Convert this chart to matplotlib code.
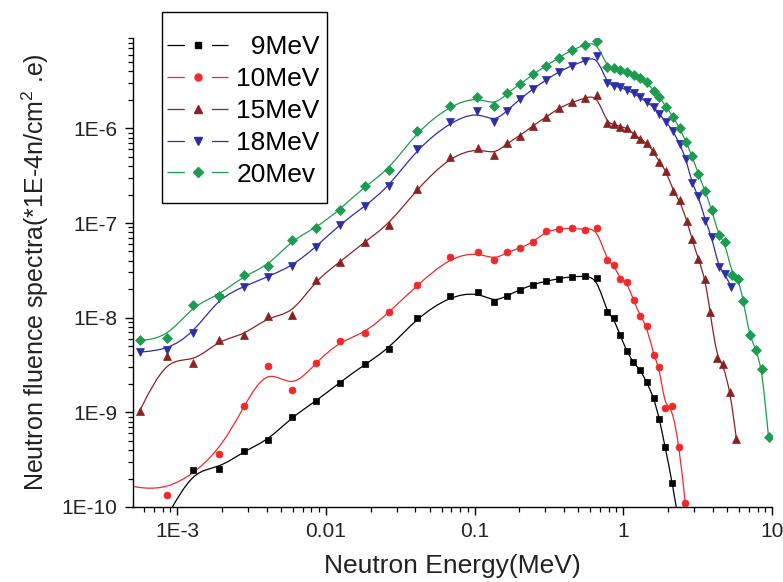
import numpy as np
import matplotlib
matplotlib.use("Agg")
import matplotlib.pyplot as plt
import matplotlib.ticker as mticker
from matplotlib.path import Path
from matplotlib.patches import PathPatch, Rectangle
from matplotlib.lines import Line2D

plt.rcParams.update({
    "font.family": "Liberation Sans",
    "mathtext.default": "regular",
    "lines.scale_dashes": False,
})

# ── Data ──────────────────────────────────────────────────────────────────────
x_left = [5.6e-4, 8.6e-4, 1.29e-3, 1.91e-3, 2.82e-3, 4.09e-3, 5.93e-3,
          8.56e-3, 0.0124, 0.0183, 0.0266, 0.0411, 0.0682]

e9_x = [8.6e-4, 1.29e-3, 1.91e-3, 2.82e-3, 4.09e-3, 5.93e-3, 8.56e-3, 0.0124,
        0.0183, 0.0266, 0.0411, 0.0682, 0.105, 0.136, 0.165, 0.203, 0.247,
        0.303, 0.369, 0.451, 0.554, 0.664, 0.776, 0.860, 0.953, 1.057, 1.16,
        1.30, 1.44, 1.60, 1.75, 1.91, 2.14, 2.39]
e9_y = [8e-11, 2.48e-10, 2.54e-10, 3.90e-10, 5.06e-10, 8.91e-10, 1.31e-9,
        2.06e-9, 3.21e-9, 4.70e-9, 9.98e-9, 1.69e-8, 1.86e-8, 1.46e-8, 1.71e-8,
        1.97e-8, 2.24e-8, 2.43e-8, 2.58e-8, 2.72e-8, 2.74e-8, 2.64e-8, 1.14e-8,
        9.9e-9, 6.49e-9, 4.45e-9, 3.39e-9, 2.82e-9, 2.08e-9, 1.43e-9, 8.57e-10,
        4.30e-10, 1.80e-10, 6e-11]

e10_x = [4.0e-4, 8.6e-4, 1.91e-3, 2.82e-3, 4.09e-3, 5.93e-3, 8.56e-3, 0.0124,
         0.0183, 0.0266, 0.0411, 0.0682, 0.105, 0.136, 0.165, 0.203, 0.247,
         0.303, 0.369, 0.451, 0.554, 0.664, 0.776, 0.860, 0.953, 1.057, 1.172,
         1.30, 1.44, 1.60, 1.75, 1.91, 2.12, 2.38, 2.61]
e10_y = [1.8e-10, 1.35e-10, 3.66e-10, 1.18e-9, 3.05e-9, 1.73e-9, 3.34e-9,
         5.61e-9, 6.86e-9, 1.14e-8, 2.19e-8, 4.35e-8, 4.91e-8, 4.08e-8, 4.91e-8,
         5.42e-8, 6.26e-8, 8.18e-8, 8.67e-8, 8.81e-8, 8.53e-8, 8.89e-8, 4.02e-8,
         3.64e-8, 2.58e-8, 2.37e-8, 1.53e-8, 1.05e-8, 8.1e-9, 3.99e-9, 3.00e-9,
         1.12e-9, 1.18e-9, 4.30e-10, 1.1e-10]

e15_x = x_left + [0.105, 0.136, 0.165, 0.203, 0.247, 0.303, 0.369, 0.451,
                  0.554, 0.664, 0.776, 0.860, 0.953, 1.057, 1.172, 1.30, 1.44,
                  1.58, 1.75, 1.94, 2.16, 2.39, 2.68, 2.89, 3.20, 3.55, 3.84,
                  4.26, 4.68, 5.24, 5.76]
e15_y = [1.03e-9, 3.89e-9, 3.31e-9, 5.85e-9, 6.49e-9, 1.03e-8, 1.08e-8,
         2.51e-8, 3.83e-8, 6.37e-8, 9.63e-8, 2.29e-7, 5.02e-7,
         6.21e-7, 5.28e-7, 6.95e-7, 8.37e-7, 1.07e-6, 1.31e-6, 1.64e-6, 1.88e-6,
         2.09e-6, 2.27e-6, 1.13e-6, 1.11e-6, 1.04e-6, 1.01e-6, 8.73e-7, 7.73e-7,
         6.95e-7, 5.82e-7, 4.38e-7, 3.58e-7, 2.20e-7, 1.73e-7, 1.06e-7, 6.81e-8,
         4.19e-8, 2.58e-8, 1.14e-8, 3.78e-9, 3.26e-9, 1.64e-9, 5.27e-10]

e18_x = x_left + [0.104, 0.136, 0.165, 0.203, 0.247, 0.303, 0.369, 0.451,
                  0.554, 0.664, 0.776, 0.860, 0.953, 1.057, 1.172, 1.30, 1.44,
                  1.60, 1.75, 1.94, 2.16, 2.39, 2.65, 2.89, 3.20, 3.55, 3.94,
                  4.37, 4.84, 5.29]
e18_y = [4.33e-9, 4.58e-9, 6.86e-9, 1.62e-8, 2.13e-8, 2.72e-8, 3.50e-8,
         5.55e-8, 9.63e-8, 1.50e-7, 2.43e-7, 6.07e-7, 1.16e-6,
         1.51e-6, 1.16e-6, 1.54e-6, 2.04e-6, 2.61e-6, 3.25e-6, 3.96e-6, 4.59e-6,
         5.19e-6, 5.85e-6, 2.99e-6, 2.82e-6, 2.71e-6, 2.54e-6, 2.34e-6, 2.12e-6,
         1.88e-6, 1.69e-6, 1.42e-6, 1.16e-6, 9.46e-7, 6.85e-7, 4.75e-7, 2.63e-7,
         1.95e-7, 1.06e-7, 7.19e-8, 3.41e-8, 2.86e-8, 2.13e-8]

e20_x = x_left + [0.104, 0.136, 0.165, 0.203, 0.247, 0.303, 0.369, 0.451,
                  0.554, 0.664, 0.776, 0.860, 0.953, 1.057, 1.172, 1.30, 1.44,
                  1.60, 1.75, 1.94, 2.16, 2.39, 2.65, 2.89, 3.20, 3.55, 3.94,
                  4.37, 4.84, 5.39, 5.95, 6.43, 7.06, 7.83, 8.55, 9.48]
e20_y = [5.74e-9, 6.14e-9, 1.37e-8, 1.71e-8, 2.79e-8, 3.50e-8, 6.64e-8,
         8.81e-8, 1.38e-7, 2.44e-7, 3.66e-7, 9.3e-7, 1.74e-6,
         2.16e-6, 1.74e-6, 2.34e-6, 2.92e-6, 3.72e-6, 4.57e-6, 5.59e-6, 6.72e-6,
         7.64e-6, 8.28e-6, 4.40e-6, 4.30e-6, 4.13e-6, 3.90e-6, 3.65e-6, 3.40e-6,
         3.06e-6, 2.50e-6, 2.12e-6, 1.69e-6, 1.33e-6, 1.01e-6, 7.12e-7, 5.15e-7,
         3.30e-7, 2.16e-7, 1.38e-7, 7.38e-8, 6.26e-8, 2.79e-8, 2.58e-8, 1.49e-8,
         6.49e-9, 4.51e-9, 2.89e-9, 5.48e-10]

labels = ["  9MeV", "10MeV", "15MeV", "18MeV", "20Mev"]
colors = ["#000000", "#ee2a2a", "#8a2222", "#2c2ea8", "#1c9c50"]
markers = ["s", "o", "^", "v", "D"]
msizes = [5.0, 5.0, 6.0, 6.0, 4.6]

x_ticks = [1e-3, 0.01, 0.1, 1, 10]
x_tick_labels = ["1E-3", "0.01", "0.1", "1", "10"]
y_ticks = [1e-10, 1e-9, 1e-8, 1e-7, 1e-6]
y_tick_labels = ["1E-10", "1E-9", "1E-8", "1E-7", "1E-6"]

series = [(e9_x, e9_y), (e10_x, e10_y), (e15_x, e15_y), (e18_x, e18_y), (e20_x, e20_y)]


def bspline_path(xs, ys):
    """Origin-style B-spline connector: cubic B-spline in log-log space,
    written as Bezier segments so matplotlib draws the curve itself."""
    p = np.column_stack([np.log10(xs), np.log10(ys)])
    q = np.vstack([p[:1], p[:1], p, p[-1:], p[-1:]])
    verts = [(q[0] + 4 * q[1] + q[2]) / 6]
    codes = [Path.MOVETO]
    for i in range(len(q) - 3):
        a, b, c, d = q[i:i + 4]
        verts += [(2 * b + c) / 3, (b + 2 * c) / 3, (b + 4 * c + d) / 6]
        codes += [Path.CURVE4] * 3
    return Path(10 ** np.array(verts), codes)


# ── Figure ────────────────────────────────────────────────────────────────────
W, H = 783, 582
fig = plt.figure(figsize=(W / 100, H / 100), dpi=100)
ax = fig.add_axes([133 / W, 1 - 507 / H, (772 - 133) / W, (507 - 38) / H])
ax.set_xscale("log")
ax.set_yscale("log")

for (xs, ys), c, m, ms in zip(series, colors, markers, msizes):
    ax.add_patch(PathPatch(bspline_path(xs, ys), fill=False, edgecolor=c,
                           lw=0.9, transform=ax.transData))
    ax.plot(xs, ys, ls="none", marker=m, ms=ms, color=c, mec=c, mew=0.5)

ax.set_xlim(5.06e-4, 10)
ax.set_ylim(1e-10, 9e-6)

for s in ["top", "right"]:
    ax.spines[s].set_visible(False)
for s in ["left", "bottom"]:
    ax.spines[s].set_linewidth(1.0)

ax.xaxis.set_major_locator(mticker.FixedLocator(x_ticks))
ax.xaxis.set_major_formatter(mticker.FixedFormatter(x_tick_labels))
ax.yaxis.set_major_locator(mticker.FixedLocator(y_ticks))
ax.yaxis.set_major_formatter(mticker.FixedFormatter(y_tick_labels))
for axis in (ax.xaxis, ax.yaxis):
    axis.set_minor_locator(mticker.LogLocator(base=10, subs=np.arange(2, 10), numticks=30))
    axis.set_minor_formatter(mticker.NullFormatter())

ax.tick_params(which="major", direction="out", length=6, width=1.0,
               labelsize=15, labelcolor="#222222", pad=5)
ax.tick_params(which="minor", direction="out", length=3.5, width=0.9)

ax.set_xlabel("Neutron Energy(MeV)", fontsize=19, color="#222222", labelpad=9)
ax.set_ylabel("Neutron fluence spectra(*1E-4n/cm$^{2}$ .e)", fontsize=18,
              color="#222222", labelpad=8)

# legend: frameless entries plus a separate box like the Origin one
handles = [Line2D([], [], color=c, lw=0.9, ls=(0, (12.5, 19.5)), marker=m, ms=ms,
                  mec=c) for c, m, ms in zip(colors, markers, msizes)]
fig.legend(handles, labels, loc="upper left", frameon=False,
           bbox_to_anchor=(167 / W, 1 - 35 / H), bbox_transform=fig.transFigure,
           fontsize=19, handlelength=2.33, handletextpad=0.3, labelspacing=0.3,
           borderpad=0, borderaxespad=0, numpoints=1)
fig.add_artist(Rectangle((162 / W, 1 - 203 / H), 165 / W, 191 / H,
                         transform=fig.transFigure, fill=False, ec="black", lw=1.0))

fig.savefig("out.png", dpi=100)
